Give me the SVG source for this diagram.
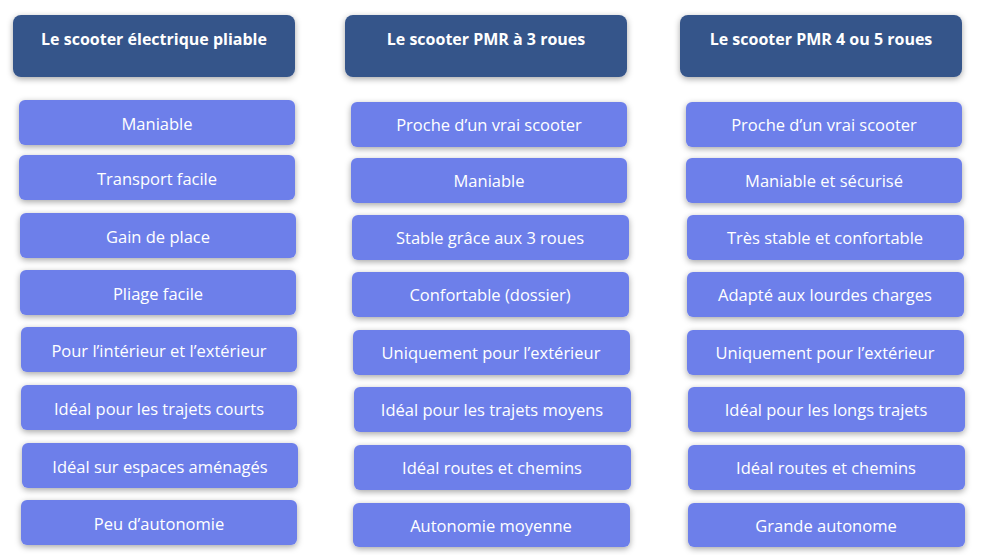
<svg xmlns="http://www.w3.org/2000/svg" width="983" height="555" viewBox="0 0 983 555">
<defs>
<filter id="sh" x="-10%" y="-30%" width="120%" height="160%"><feDropShadow dx="0" dy="2" stdDeviation="3" flood-color="#000" flood-opacity="0.35"/></filter>
<style>
.h{fill:#34548a;filter:url(#sh)}
.b{fill:#6d7fea;filter:url(#sh)}
.ht{font-family:"Open Sans","Liberation Sans",Arial,sans-serif;font-weight:bold;font-size:16px;fill:#fff;text-anchor:middle}
.bt{font-family:"Open Sans","Liberation Sans",Arial,sans-serif;font-size:16.5px;fill:#fff;text-anchor:middle}
</style>
</defs>
<rect width="983" height="555" fill="#fff"/>
<g id="h1"><rect class="h" x="13" y="15" width="282" height="62" rx="8"/><text class="ht" x="154" y="45">Le scooter électrique pliable</text></g>
<g id="h2"><rect class="h" x="345" y="15" width="282" height="62" rx="8"/><text class="ht" x="486" y="45">Le scooter PMR à 3 roues</text></g>
<g id="h3"><rect class="h" x="680" y="15" width="282" height="62" rx="8"/><text class="ht" x="821" y="45">Le scooter PMR 4 ou 5 roues</text></g>
<g id="c1">
<g id="c1n1"><rect class="b" x="19" y="100" width="276" height="45" rx="6"/><text class="bt" x="157" y="130">Maniable</text></g>
<g id="c1n2"><rect class="b" x="19" y="155" width="276" height="45" rx="6"/><text class="bt" x="157" y="185">Transport facile</text></g>
<g id="c1n3"><rect class="b" x="20" y="213" width="276" height="45" rx="6"/><text class="bt" x="158" y="243">Gain de place</text></g>
<g id="c1n4"><rect class="b" x="20" y="270" width="276" height="45" rx="6"/><text class="bt" x="158" y="300">Pliage facile</text></g>
<g id="c1n5"><rect class="b" x="21" y="327" width="276" height="45" rx="6"/><text class="bt" x="159" y="357">Pour l’intérieur et l’extérieur</text></g>
<g id="c1n6"><rect class="b" x="21" y="385" width="276" height="45" rx="6"/><text class="bt" x="159" y="415">Idéal pour les trajets courts</text></g>
<g id="c1n7"><rect class="b" x="22" y="443" width="276" height="45" rx="6"/><text class="bt" x="160" y="473">Idéal sur espaces aménagés</text></g>
<g id="c1n8"><rect class="b" x="21" y="500" width="276" height="45" rx="6"/><text class="bt" x="159" y="530">Peu d’autonomie</text></g>
</g>
<g id="c2">
<g id="c2n1"><rect class="b" x="351" y="102" width="276" height="45" rx="6"/><text class="bt" x="489" y="131">Proche d’un vrai scooter</text></g>
<g id="c2n2"><rect class="b" x="351" y="158" width="276" height="45" rx="6"/><text class="bt" x="489" y="187">Maniable</text></g>
<g id="c2n3"><rect class="b" x="352" y="215" width="277" height="45" rx="6"/><text class="bt" x="490" y="244">Stable grâce aux 3 roues</text></g>
<g id="c2n4"><rect class="b" x="352" y="272" width="277" height="45" rx="6"/><text class="bt" x="490" y="301">Confortable (dossier)</text></g>
<g id="c2n5"><rect class="b" x="353" y="330" width="277" height="45" rx="6"/><text class="bt" x="491" y="359">Uniquement pour l’extérieur</text></g>
<g id="c2n6"><rect class="b" x="354" y="387" width="277" height="45" rx="6"/><text class="bt" x="492" y="416">Idéal pour les trajets moyens</text></g>
<g id="c2n7"><rect class="b" x="354" y="445" width="277" height="45" rx="6"/><text class="bt" x="492" y="474">Idéal routes et chemins</text></g>
<g id="c2n8"><rect class="b" x="353" y="503" width="277" height="44" rx="6"/><text class="bt" x="491" y="532">Autonomie moyenne</text></g>
</g>
<g id="c3">
<g id="c3n1"><rect class="b" x="686" y="102" width="276" height="45" rx="6"/><text class="bt" x="824" y="131">Proche d’un vrai scooter</text></g>
<g id="c3n2"><rect class="b" x="686" y="158" width="276" height="45" rx="6"/><text class="bt" x="824" y="187">Maniable et sécurisé</text></g>
<g id="c3n3"><rect class="b" x="687" y="215" width="277" height="45" rx="6"/><text class="bt" x="825" y="244">Très stable et confortable</text></g>
<g id="c3n4"><rect class="b" x="687" y="272" width="277" height="45" rx="6"/><text class="bt" x="825" y="301">Adapté aux lourdes charges</text></g>
<g id="c3n5"><rect class="b" x="687" y="330" width="277" height="45" rx="6"/><text class="bt" x="825" y="359">Uniquement pour l’extérieur</text></g>
<g id="c3n6"><rect class="b" x="688" y="387" width="277" height="45" rx="6"/><text class="bt" x="826" y="416">Idéal pour les longs trajets</text></g>
<g id="c3n7"><rect class="b" x="688" y="445" width="277" height="45" rx="6"/><text class="bt" x="826" y="474">Idéal routes et chemins</text></g>
<g id="c3n8"><rect class="b" x="688" y="503" width="277" height="44" rx="6"/><text class="bt" x="826" y="532">Grande autonome</text></g>
</g>
<g id="connectors"/>
</svg>
